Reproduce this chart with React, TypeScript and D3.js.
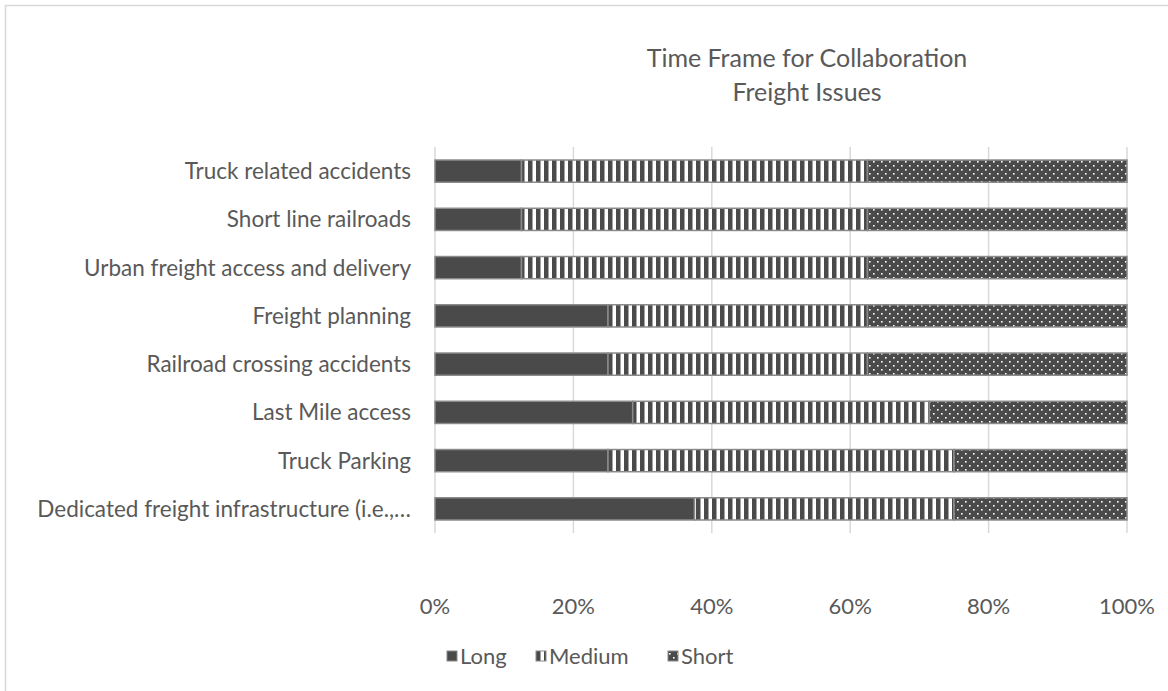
import React, { useEffect } from "react";
import * as d3 from "d3";

const categories = [
  "Truck related accidents",
  "Short line railroads",
  "Urban freight access and delivery",
  "Freight planning",
  "Railroad crossing accidents",
  "Last Mile access",
  "Truck Parking",
  "Dedicated freight infrastructure (i.e.,…",
];
const longValues = [12.5, 12.5, 12.5, 25, 25, 28.57, 25, 37.5];
const mediumValues = [50, 50, 50, 37.5, 37.5, 42.86, 50, 37.5];
const shortValues = [37.5, 37.5, 37.5, 37.5, 37.5, 28.57, 25, 25];
const seriesNames = ["Long", "Medium", "Short"];
const xTicks = [0, 0.2, 0.4, 0.6, 0.8, 1];
const titleLines = ["Time Frame for Collaboration", "Freight Issues"];

const W = 1168;
const H = 691;
const TEXT = "#595959";
const FONT = "Lato, 'Open Sans', sans-serif";

const fills: Record<string, string> = {
  Long: "#4a4a4a",
  Medium: "url(#pMedium)",
  Short: "url(#pShort)",
};

export default function App() {
  useEffect(() => {
    document.body.style.margin = "0";
  }, []);

  const rows = categories.map((c, i) => ({
    cat: c,
    Long: longValues[i],
    Medium: mediumValues[i],
    Short: shortValues[i],
  }));
  const stack = d3.stack<any>().keys(seriesNames).offset(d3.stackOffsetExpand);
  const layers = stack(rows);

  const x = d3.scaleLinear().domain([0, 1]).range([435, 1127]);
  const y = d3.scaleBand().domain(categories).range([147, 533]).paddingInner(0.54).paddingOuter(0.27);

  const legendItems = [
    { name: "Long", x: 447 },
    { name: "Medium", x: 536 },
    { name: "Short", x: 668 },
  ];

  return (
    <svg width={W} height={H} style={{ display: "block", fontFamily: FONT }}>
      <defs>
        <pattern id="pMedium" patternUnits="userSpaceOnUse" width={8} height={8}>
          <rect width={8} height={8} fill="#ffffff" />
          <rect x={0} width={4.5} height={8} fill="#4a4a4a" />
        </pattern>
        <pattern id="pShort" patternUnits="userSpaceOnUse" width={8} height={8}>
          <rect width={8} height={8} fill="#4a4a4a" />
          <rect x={1} y={1} width={1.6} height={1.6} fill="#ffffff" />
          <rect x={5} y={5} width={1.6} height={1.6} fill="#ffffff" />
        </pattern>
      </defs>
      <rect width={W} height={H} fill="#ffffff" />
      <rect x={5.5} y={5.5} width={1200} height={700} fill="none" stroke="#d9d9d9" strokeWidth={1.5} />

      {titleLines.map((t, i) => (
        <text key={t} x={807} y={67 + i * 34} textAnchor="middle" fontSize={25} fill={TEXT}>
          {t}
        </text>
      ))}

      {xTicks.map((t) => (
        <line key={t} x1={x(t)} x2={x(t)} y1={147} y2={533} stroke="#d9d9d9" strokeWidth={1.5} />
      ))}

      {layers.map((layer) => (
        <g key={layer.key}>
          {layer.map((d, i) => (
            <rect
              key={i}
              x={x(d[0])}
              y={y(categories[i])!}
              width={x(d[1]) - x(d[0])}
              height={y.bandwidth()}
              fill={fills[layer.key]}
              stroke="#8a8a8a"
              strokeWidth={1.5}
            />
          ))}
        </g>
      ))}

      {categories.map((c) => (
        <text
          key={c}
          x={411}
          y={y(c)! + y.bandwidth() / 2}
          dy="0.35em"
          textAnchor="end"
          fontSize={22.5}
          fill={TEXT}
        >
          {c}
        </text>
      ))}

      {xTicks.map((t) => (
        <text key={t} x={x(t)} y={614} textAnchor="middle" fontSize={22} fill={TEXT}>
          {d3.format(".0%")(t)}
        </text>
      ))}

      {legendItems.map((l) => (
        <g key={l.name}>
          <rect x={l.x} y={651} width={10} height={10} fill={fills[l.name]} stroke="#8a8a8a" strokeWidth={1} />
          <text x={l.x + 13} y={664} fontSize={22} fill={TEXT}>
            {l.name}
          </text>
        </g>
      ))}
    </svg>
  );
}
